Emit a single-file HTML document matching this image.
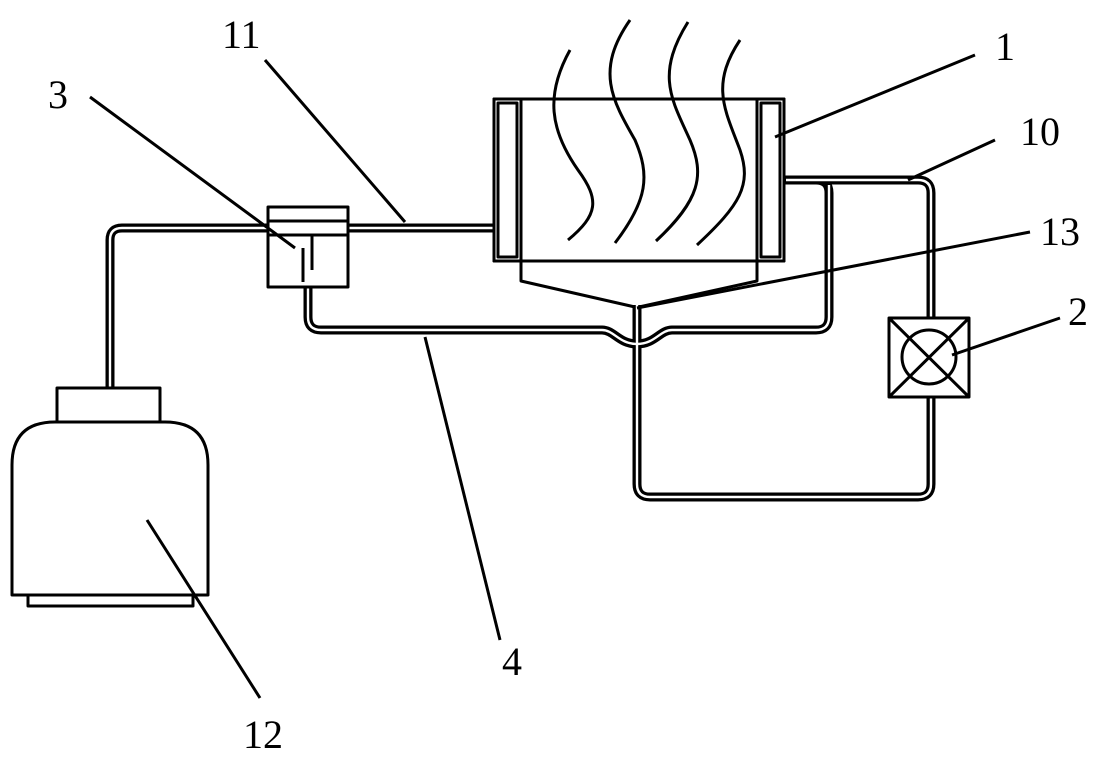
<!DOCTYPE html>
<html><head><style>body{margin:0;background:#fff}svg{display:block}text{font-family:"Liberation Serif",serif;font-size:40px}</style></head><body>
<svg width="1118" height="758" viewBox="0 0 1118 758" xmlns="http://www.w3.org/2000/svg">
<g fill="none" stroke="#000" stroke-linejoin="round">
<g stroke-width="9">
<path d="M268,228 H122 Q110,228 110,240 V388"/>
<path d="M348,228 H494"/>
<path d="M784,180 H918 Q931,180 931,193 V318"/>
<path d="M931,397 V484 Q931,497 918,497 H650 Q637,497 637,484 V305"/>
<path d="M784,180 H816 Q829,180 829,193 V317 Q829,330 816,330 H672 C660,330 655,344 637,344 C619,344 614,330 602,330 H321 Q308,330 308,317 V287"/>
</g>
<g stroke="#fff" stroke-width="2.4">
<path d="M268,228 H122 Q110,228 110,240 V388"/>
<path d="M348,228 H494"/>
<path d="M786,180 H918 Q931,180 931,193 V318"/>
<path d="M931,397 V484 Q931,497 918,497 H650 Q637,497 637,484 V305"/>
<path d="M829,185 V317 Q829,330 816,330 H672 C660,330 655,344 637,344 C619,344 614,330 602,330 H321 Q308,330 308,317 V287"/>
</g>
<g stroke-width="3">
<rect x="494" y="99" width="290" height="162" fill="#fff"/>
<rect x="494" y="99" width="27" height="162"/>
<rect x="498" y="103" width="19" height="154"/>
<rect x="757" y="99" width="27" height="162"/>
<rect x="761" y="103" width="19" height="154"/>
<path d="M521,261 V281 L635,307 M757,261 V281 L639,307"/>
<path d="M570,50 C545,95 550,130 578,170 C600,200 598,215 568,240"/>
<path d="M630,20 C595,70 612,100 635,140 C650,175 648,200 615,243"/>
<path d="M688,22 C655,75 672,100 690,140 C705,175 700,200 656,241"/>
<path d="M740,40 C710,85 725,110 740,150 C752,185 740,205 697,245"/>
<rect x="268" y="207" width="80" height="80" fill="#fff"/>
<path d="M268,221 H348 M268,235 H348 M303,248 V282 M312,236 V270"/>
<rect x="889" y="318" width="80" height="79" fill="#fff"/>
<path d="M889,318 L969,397 M969,318 L889,397"/>
<circle cx="929" cy="357" r="27"/>
<rect x="57" y="388" width="103" height="34" fill="#fff"/>
<path d="M12,595 V465 Q12,422 55,422 H165 Q208,422 208,465 V595 Z" fill="#fff"/>
<rect x="28" y="595" width="165" height="11"/>
<path d="M775,137 L975,55 M908,180 L995,140 M637,308 L1030,232 M952,355 L1060,318 M405,222 L265,60 M295,248 L90,97 M425,337 L500,640 M147,520 L260,698"/>
</g>
</g>
<g fill="#000">
<text x="995" y="60">1</text>
<text x="1020" y="145">10</text>
<text x="1040" y="245">13</text>
<text x="1068" y="325">2</text>
<text x="222" y="48">11</text>
<text x="48" y="108">3</text>
<text x="502" y="675">4</text>
<text x="243" y="748">12</text>
</g>
</svg>
</body></html>
